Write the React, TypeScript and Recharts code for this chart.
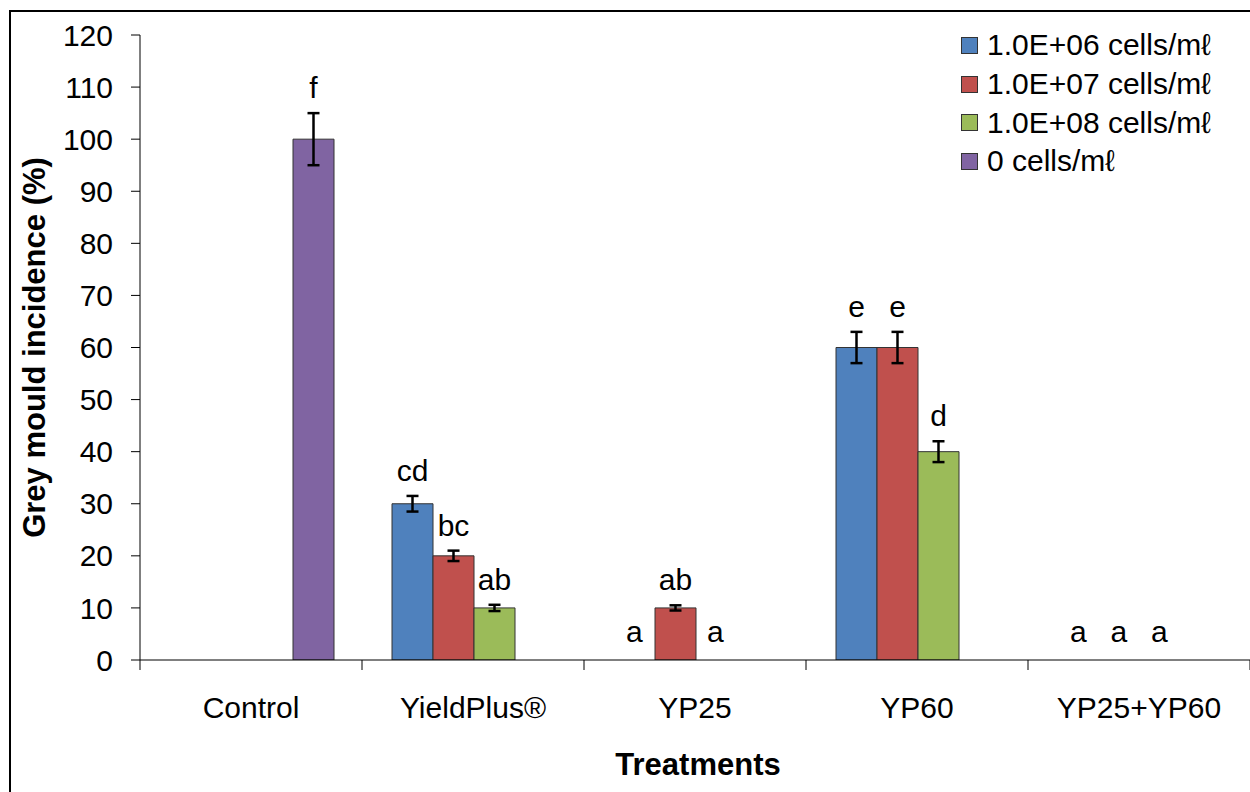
import React from "react";
import { BarChart, Bar, XAxis, YAxis, ErrorBar, LabelList, Legend } from "recharts";

const treatments = ["Control", "YieldPlus®", "YP25", "YP60", "YP25+YP60"];

// incidence (%) per concentration
const conc6 = [null, 30, 0, 60, 0];
const conc7 = [null, 20, 10, 60, 0];
const conc8 = [null, 10, 0, 40, 0];
const conc0 = [100, null, null, null, null];

// standard error
const err6 = [null, 1.5, null, 3, null];
const err7 = [null, 1, 0.5, 3, null];
const err8 = [null, 0.6, null, 2, null];
const err0 = [5, null, null, null, null];

// significance letters
const lab6 = [null, "cd", "a", "e", "a"];
const lab7 = [null, "bc", "ab", "e", "a"];
const lab8 = [null, "ab", "a", "d", "a"];
const lab0 = ["f", null, null, null, null];

const yTicks = [0, 10, 20, 30, 40, 50, 60, 70, 80, 90, 100, 110, 120];

const series = [
  { key: "c6", name: "1.0E+06 cells/mℓ", color: "#4F81BD", vals: conc6, errs: err6, labs: lab6 },
  { key: "c7", name: "1.0E+07 cells/mℓ", color: "#C0504D", vals: conc7, errs: err7, labs: lab7 },
  { key: "c8", name: "1.0E+08 cells/mℓ", color: "#9BBB59", vals: conc8, errs: err8, labs: lab8 },
  { key: "c0", name: "0 cells/mℓ", color: "#8064A2", vals: conc0, errs: err0, labs: lab0 },
];

const data = treatments.map((t, i) => {
  const row: Record<string, any> = { name: t };
  series.forEach((s) => {
    row[s.key] = s.vals[i];
    row[s.key + "Err"] = s.errs[i];
    row[s.key + "Lab"] = s.labs[i];
  });
  return row;
});

const FONT = "'Liberation Sans', Arial, sans-serif";
const TOP = 35;
const AXIS_Y = 660;
const PLOT_LEFT = 140;
const PX_PER_UNIT = (AXIS_Y - TOP) / 120;
const BAND = (1250 - PLOT_LEFT) / treatments.length;
const CAT_GAP = 30;
const BAR_W = (BAND - 2 * CAT_GAP) / series.length;

const makeLabel = (errs: (number | null)[]) => (props: any) => {
  const { value } = props;
  if (value == null) return null;
  const vb = props.viewBox || props;
  const cx = vb.x + vb.width / 2;
  // label index only counts drawn bars, so find the category from x
  const cat = Math.floor((cx - PLOT_LEFT) / BAND);
  const err = errs[cat] ?? 0;
  const top = Math.min(vb.y, vb.y + vb.height) - err * PX_PER_UNIT;
  return (
    <text x={cx} y={top - 15} textAnchor="middle" fontFamily={FONT} fontSize={30} fill="#000">
      {value}
    </text>
  );
};

// x tick: boundary tick marks, category name, and letters of zero-height bars
const XTick = (props: any) => {
  const { x, payload, index } = props;
  const left = x - BAND / 2;
  return (
    <g>
      <line x1={left} x2={left} y1={AXIS_Y} y2={AXIS_Y + 10} stroke="#000" strokeWidth={1} />
      {index === treatments.length - 1 && (
        <line x1={x + BAND / 2} x2={x + BAND / 2} y1={AXIS_Y} y2={AXIS_Y + 10} stroke="#000" strokeWidth={1} />
      )}
      {series.map((s, j) =>
        s.vals[index] === 0 && s.labs[index] ? (
          <text
            key={s.key}
            x={left + CAT_GAP + BAR_W * (j + 0.5)}
            y={AXIS_Y - 18}
            textAnchor="middle"
            fontFamily={FONT}
            fontSize={30}
            fill="#000"
          >
            {s.labs[index]}
          </text>
        ) : null
      )}
      <text x={x} y={AXIS_Y + 58} textAnchor="middle" fontFamily={FONT} fontSize={30} fill="#000">
        {payload.value}
      </text>
    </g>
  );
};

const renderLegend = () => (
  <div style={{ fontFamily: FONT, fontSize: 30, color: "#000" }}>
    {series.map((s) => (
      <div key={s.key} style={{ display: "flex", alignItems: "center", height: 38.7 }}>
        <span
          style={{
            display: "inline-block",
            width: 15,
            height: 15,
            background: s.color,
            border: "1px solid #333",
            marginRight: 9,
          }}
        />
        <span>{s.name}</span>
      </div>
    ))}
  </div>
);

export default function App() {
  return (
    <div style={{ position: "absolute", left: 0, top: 0, width: 1250, height: 792, overflow: "hidden", background: "#fff" }}>
      <div
        style={{
          position: "absolute",
          left: 9,
          top: 10,
          width: 1300,
          height: 800,
          borderLeft: "2px solid #000",
          borderTop: "2px solid #000",
        }}
      />
      <BarChart
        width={1250}
        height={792}
        data={data}
        margin={{ top: TOP, right: 0, bottom: 0, left: 0 }}
        barCategoryGap={CAT_GAP}
        barGap={0}
        style={{ position: "absolute", left: 0, top: 0 }}
      >
        <XAxis
          dataKey="name"
          height={132}
          axisLine={{ stroke: "#000", strokeWidth: 1 }}
          tickLine={false}
          tick={<XTick />}
          interval={0}
          label={{
            content: () => (
              <text x={698} y={775} textAnchor="middle" fontFamily={FONT} fontSize={31} fontWeight="bold" fill="#000">
                Treatments
              </text>
            ),
          }}
        />
        <YAxis
          width={PLOT_LEFT}
          domain={[0, 120]}
          ticks={yTicks}
          interval={0}
          allowDataOverflow
          axisLine={{ stroke: "#000", strokeWidth: 1 }}
          tickLine={{ stroke: "#000", strokeWidth: 1 }}
          tickSize={9}
          tickMargin={18}
          tick={{ fontFamily: FONT, fontSize: 30, fill: "#000" }}
          label={{
            content: () => (
              <text
                transform={`translate(45, ${(TOP + AXIS_Y) / 2}) rotate(-90)`}
                textAnchor="middle"
                fontFamily={FONT}
                fontSize={31}
                fontWeight="bold"
                fill="#000"
              >
                Grey mould incidence (%)
              </text>
            ),
          }}
        />
        <Legend
          layout="vertical"
          align="center"
          verticalAlign="middle"
          content={renderLegend}
          wrapperStyle={{ position: "absolute", left: 961, top: 26, width: 290 }}
        />
        {series.map((s) => (
          <Bar
            key={s.key}
            dataKey={s.key}
            name={s.name}
            fill={s.color}
            stroke="#333"
            strokeWidth={1}
            isAnimationActive={false}
          >
            <ErrorBar dataKey={s.key + "Err"} width={6} stroke="#000" strokeWidth={2.5} direction="y" />
            <LabelList dataKey={s.key + "Lab"} content={makeLabel(s.errs)} />
          </Bar>
        ))}
      </BarChart>
    </div>
  );
}
